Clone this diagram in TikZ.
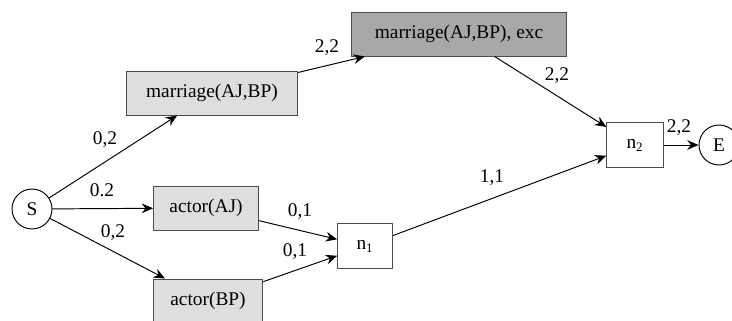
\documentclass[tikz,border=0pt]{standalone}
\usepackage{fontspec}
\IfFontExistsTF{LiberationSerif-Regular.ttf}
  {\setmainfont{LiberationSerif-Regular.ttf}}
  {\setmainfont{Liberation Serif}}
\usepackage{xcolor}
\usetikzlibrary{arrows.meta}
\definecolor{boxlight}{gray}{0.87}
\definecolor{boxdark}{gray}{0.66}
\definecolor{boxline}{gray}{0.3}

\begin{document}
\begin{tikzpicture}[x=0.62pt, y=-0.62pt, font=\fontsize{12}{14}\selectfont,
		state/.style={circle, draw, minimum size=24.8pt, inner sep=0pt},
		fact/.style={rectangle, draw=boxline, fill=boxlight, minimum height=27.3pt, inner sep=0pt},
		joinbox/.style={rectangle, draw=boxline, fill=white, minimum height=27.5pt, inner sep=0pt},
		every path/.style={line width=0.6pt}]
			\useasboundingbox (0,0) rectangle (732,320);
			\node[state](S) at (32,209){S};
			\node[fact, minimum width=106pt](mAB) at (212,93){marriage(AJ,BP)};
			\node[fact, minimum width=65pt](aAJ) at (206,208){actor(AJ)};
			\node[fact, minimum width=68pt](aBP) at (208,301){actor(BP)};
			\node[joinbox, minimum width=34pt](n1) at (365,246){n\textsubscript{1}};
			\node[fact, fill=boxdark, minimum width=133pt](mExc) at (459,34){marriage(AJ,BP), exc};
			\node[joinbox, minimum width=35pt](n2) at (635,145){n\textsubscript{2}};
			\node[state](E) at (719,145){E};
			\foreach \from/\to/\lab/\lx/\ly[count=\iEdge] in {S/mAB/{0,2}/105/140, S/aAJ/0.2/102/190, S/aBP/{0,2}/113/233, aAJ/n1/{0,1}/300/212, aBP/n1/{0,1}/295/252, mAB/mExc/{2,2}/327/48, mExc/n2/{2,2}/557/76, n1/n2/{1,1}/492/178, n2/E/{2,2}/679/128}
			{
				\draw[-{Stealth[length=7pt, width=6pt]}] (\from) -- (\to);
				\node(w\iEdge) at (\lx,\ly){\lab};
			}
		\end{tikzpicture}
\end{document}
